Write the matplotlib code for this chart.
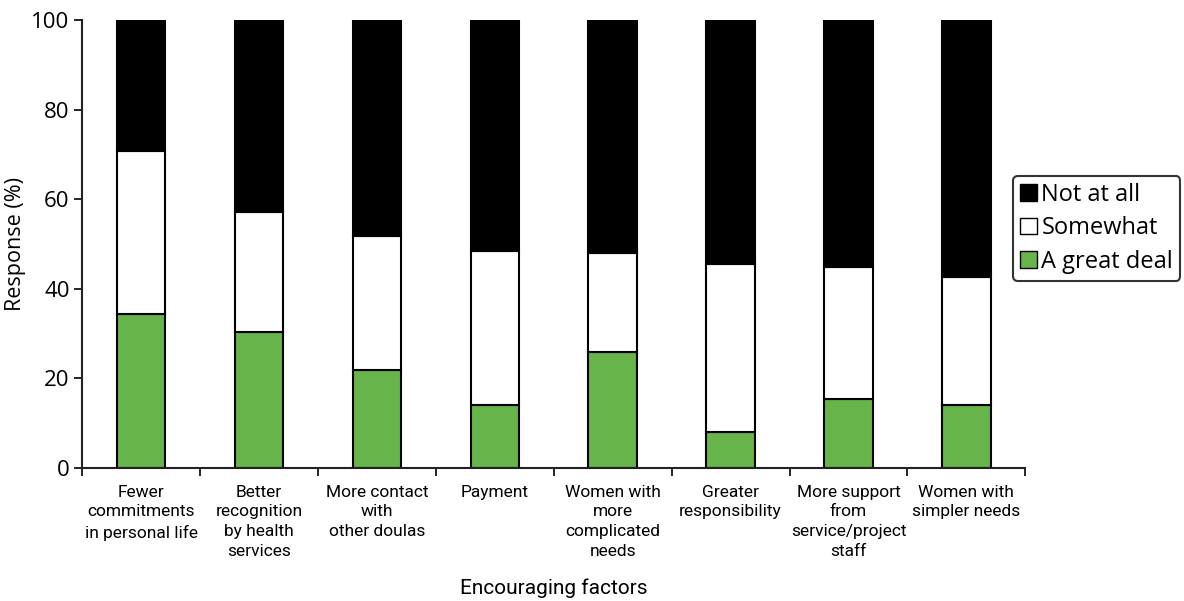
import matplotlib.pyplot as plt
import numpy as np
from matplotlib.patches import Patch

categories = [
    "Fewer\ncommitments\nin personal life",
    "Better\nrecognition\nby health\nservices",
    "More contact\nwith\nother doulas",
    "Payment",
    "Women with\nmore\ncomplicated\nneeds",
    "Greater\nresponsibility",
    "More support\nfrom\nservice/project\nstaff",
    "Women with\nsimpler needs",
]
great_deal = [34.4, 30.4, 21.9, 14.1, 25.8, 8.0, 15.3, 14.1]
somewhat = [36.4, 26.8, 29.9, 34.4, 22.1, 37.5, 29.6, 28.5]
not_at_all = [100 - g - s for g, s in zip(great_deal, somewhat)]

green = "#66b44a"

plt.rcParams['font.family'] = ['Open Sans', 'DejaVu Sans']

fig = plt.figure(figsize=(11.84, 6.01), dpi=100)
ax = fig.add_axes([0.0693, 0.2213, 0.7967, 0.7454])

x = np.arange(len(categories))
w = 0.41
ax.bar(x, great_deal, w, color=green, edgecolor="black", linewidth=1.5)
ax.bar(x, somewhat, w, bottom=great_deal, color="white", edgecolor="black", linewidth=1.5)
bottom2 = [g + s for g, s in zip(great_deal, somewhat)]
ax.bar(x, not_at_all, w, bottom=bottom2, color="black", edgecolor="black", linewidth=1.5)

ax.set_xlim(-0.5, len(categories) - 0.5)
ax.set_ylim(0, 100)
ax.set_yticks([0, 20, 40, 60, 80, 100])
ax.tick_params(axis='y', labelsize=16, length=6, width=1.2, direction='out', pad=3)

ax.set_xticks(x)
ax.set_xticklabels(categories, fontsize=12.5, linespacing=1.4,
                   family=['Roboto', 'DejaVu Sans'])
ax.tick_params(axis='x', length=0, pad=12)
ax.set_xticks(np.arange(-0.5, len(categories)), minor=True)
ax.tick_params(axis='x', which='minor', length=6, width=1.2, direction='out')

for s in ['top', 'right']:
    ax.spines[s].set_visible(False)
for s in ['left', 'bottom']:
    ax.spines[s].set_linewidth(1.5)
    ax.spines[s].set_color('#222222')

ax.set_ylabel("Response (%)", fontsize=15.5, labelpad=4)
ax.set_xlabel("Encouraging factors", fontsize=15, labelpad=14,
              family=['Roboto', 'DejaVu Sans'])

handles = [
    Patch(facecolor="black", edgecolor="black", label="Not at all"),
    Patch(facecolor="white", edgecolor="black", label="Somewhat"),
    Patch(facecolor=green, edgecolor="black", label="A great deal"),
]
leg = ax.legend(handles=handles, loc='center left', bbox_to_anchor=(0.987, 0.535),
                fontsize=17, frameon=True, fancybox=True, edgecolor='black',
                handlelength=0.7, handleheight=0.7, handletextpad=0.2,
                borderpad=0.3, labelspacing=0.4, borderaxespad=0)
leg.get_frame().set_linewidth(1.5)

fig.savefig("out.png", dpi=100)
